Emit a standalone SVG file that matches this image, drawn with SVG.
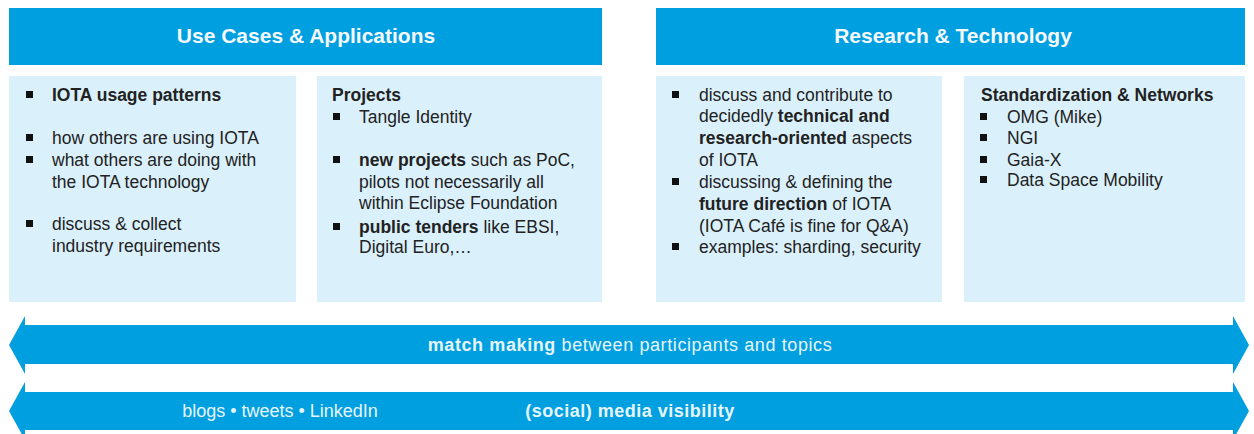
<svg xmlns="http://www.w3.org/2000/svg" width="1254" height="434" viewBox="0 0 1254 434">
<style>
.hdr{fill:#009fdf}
.pnl{fill:#daf1fc}
.ht{font-family:"Liberation Sans",Arial,sans-serif;font-weight:bold;font-size:21px;fill:#f4faff;text-anchor:middle}
.t{font-family:"Liberation Sans",Arial,sans-serif;font-size:17.5px;fill:#222}
.b{font-weight:bold}
.bl{fill:#111}
.arr{fill:#009fdf}
.at{font-family:"Liberation Sans",Arial,sans-serif;font-size:18px;fill:#e6f5fd;text-anchor:middle}
</style>
<defs>
<rect id="sq" width="7" height="7" class="bl"/>
</defs>
<rect width="1254" height="434" fill="#ffffff"/>

<g id="header-use-cases">
<rect class="hdr" x="9" y="8" width="593" height="57"/>
<text class="ht" x="306" y="43">Use Cases &amp; Applications</text>
</g>
<g id="header-research">
<rect class="hdr" x="656" y="8" width="589" height="57"/>
<text class="ht" x="953" y="43">Research &amp; Technology</text>
</g>

<g id="panel-usage">
<rect class="pnl" x="9" y="76" width="287" height="226"/>
<use href="#sq" x="26" y="91"/>
<text class="t b" x="52" y="101">IOTA usage patterns</text>
<use href="#sq" x="26" y="134"/>
<text class="t" x="52" y="144">how others are using IOTA</text>
<use href="#sq" x="26" y="156"/>
<text class="t" x="52" y="166">what others are doing with</text>
<text class="t" x="52" y="188">the IOTA technology</text>
<use href="#sq" x="26" y="220"/>
<text class="t" x="52" y="230">discuss &amp; collect</text>
<text class="t" x="52" y="252">industry requirements</text>
</g>

<g id="panel-projects">
<rect class="pnl" x="317" y="76" width="285" height="226"/>
<text class="t b" x="332" y="101">Projects</text>
<use href="#sq" x="333" y="113"/>
<text class="t" x="359" y="123">Tangle Identity</text>
<use href="#sq" x="333" y="156"/>
<text class="t" x="359" y="166"><tspan class="b">new projects</tspan> such as PoC,</text>
<text class="t" x="359" y="188">pilots not necessarily all</text>
<text class="t" x="359" y="209">within Eclipse Foundation</text>
<use href="#sq" x="333" y="223"/>
<text class="t" x="359" y="233"><tspan class="b">public tenders</tspan> like EBSI,</text>
<text class="t" x="359" y="253">Digital Euro,…</text>
</g>

<g id="panel-research">
<rect class="pnl" x="656" y="76" width="286" height="226"/>
<use href="#sq" x="672" y="91"/>
<text class="t" x="699" y="101">discuss and contribute to</text>
<text class="t" x="699" y="122">decidedly <tspan class="b">technical and</tspan></text>
<text class="t" x="699" y="144"><tspan class="b">research-oriented</tspan> aspects</text>
<text class="t" x="699" y="166">of IOTA</text>
<use href="#sq" x="672" y="178"/>
<text class="t" x="699" y="188">discussing &amp; defining the</text>
<text class="t" x="699" y="210"><tspan class="b">future direction</tspan> of IOTA</text>
<text class="t" x="699" y="232">(IOTA Café is fine for Q&amp;A)</text>
<use href="#sq" x="672" y="243"/>
<text class="t" x="699" y="253">examples: sharding, security</text>
</g>

<g id="panel-standardization">
<rect class="pnl" x="964" y="76" width="281" height="226"/>
<text class="t b" x="981" y="101">Standardization &amp; Networks</text>
<use href="#sq" x="980" y="113"/>
<text class="t" x="1007" y="123">OMG (Mike)</text>
<use href="#sq" x="980" y="134"/>
<text class="t" x="1007" y="144">NGI</text>
<use href="#sq" x="980" y="156"/>
<text class="t" x="1007" y="166">Gaia-X</text>
<use href="#sq" x="980" y="176"/>
<text class="t" x="1007" y="186">Data Space Mobility</text>
</g>

<g id="connectors">
<g id="arrow-matchmaking">
<polygon class="arr" points="9,345 25,316 25,325 1233,325 1233,316 1249,345 1233,374 1233,364 25,364 25,374"/>
<text class="at" x="630" y="351" letter-spacing="0.6"><tspan font-weight="bold">match making</tspan> between participants and topics</text>
</g>
<g id="arrow-media">
<polygon class="arr" points="9,411 25,382 25,392 1233,392 1233,382 1249,411 1233,440 1233,430 25,430 25,440"/>
<text class="at" x="280" y="417">blogs • tweets • LinkedIn</text>
<text class="at" x="630" y="417" font-weight="bold" letter-spacing="0.5">(social) media visibility</text>
</g>
</g>
</svg>
